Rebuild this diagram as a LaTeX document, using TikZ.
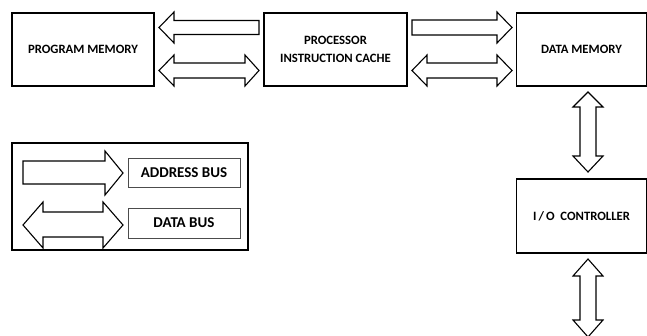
\documentclass[tikz,border=0pt]{standalone}
\usepackage{fontspec}
\setmainfont{Carlito}
\begin{document}
\begin{tikzpicture}[x=1pt,y=-1pt,
  block/.style={draw=black,line width=1.2pt,fill=white,inner sep=0pt,
    font=\bfseries\fontsize{12.7}{17.5}\selectfont,align=center},
  keybox/.style={draw=black!70,line width=0.6pt,inner sep=0pt,
    font=\bfseries\fontsize{15}{17}\selectfont},
  bus/.style={draw=black,line width=1.1pt,line join=miter,fill=white}]
\useasboundingbox (0,0) rectangle (647,335);
\clip (0,0) rectangle (647,335);

% main blocks
\node[block,minimum width=142pt,minimum height=73pt] (pm) at (83,49.5) {PROGRAM MEMORY};
\node[block,minimum width=143pt,minimum height=73pt] (pic) at (335.5,49.5) {PROCESSOR\\INSTRUCTION CACHE};
\node[block,minimum width=130pt,minimum height=73pt] (dm) at (581.5,49.5) {DATA MEMORY};
\node[block,minimum width=130pt,minimum height=74pt] (io) at (581.5,216) {I\,/\,O~~CONTROLLER};

% legend
\node[draw=black,line width=1.2pt,minimum width=236pt,minimum height=107pt] (key) at (130,196.5) {};
\node[keybox,minimum width=112pt,minimum height=29pt] (addr) at (184,172.5) {ADDRESS BUS};
\node[keybox,minimum width=112pt,minimum height=30pt] (data) at (184,223) {DATA BUS};

% bus arrows between processor cache and program memory
\draw[bus] (159,27.5) -- (174,12) -- (174,20.5) -- (259,20.5) -- (259,34.5) -- (174,34.5) -- (174,43) -- cycle;
\draw[bus] (159,70.5) -- (174,55) -- (174,63) -- (245,63) -- (245,55) -- (259,70.5)
  -- (245,86) -- (245,78) -- (174,78) -- (174,86) -- cycle;

% bus arrows between processor cache and data memory
\draw[bus] (512,27.5) -- (497,12) -- (497,20) -- (412,20) -- (412,35) -- (497,35) -- (497,43) -- cycle;
\draw[bus] (412,70.5) -- (427,55) -- (427,63) -- (497,63) -- (497,55) -- (512,70.5)
  -- (497,86) -- (497,78) -- (427,78) -- (427,86) -- cycle;

% vertical bus arrows
\draw[bus] (588,92) -- (603,107) -- (596,107) -- (596,156) -- (603,156) -- (588,172)
  -- (573,156) -- (580,156) -- (580,107) -- (573,107) -- cycle;
\draw[bus] (588,259) -- (603,276) -- (596,276) -- (596,320) -- (603,320) -- (588,337)
  -- (573,320) -- (580,320) -- (580,276) -- (573,276) -- cycle;

% legend arrows
\draw[bus] (123,173) -- (105,151) -- (105,161) -- (23,161) -- (23,184) -- (105,184) -- (105,195) -- cycle;
\draw[bus] (23,225) -- (43,202) -- (43,212) -- (103,212) -- (103,202) -- (123,225)
  -- (103,248) -- (103,237) -- (43,237) -- (43,248) -- cycle;
\end{tikzpicture}
\end{document}
